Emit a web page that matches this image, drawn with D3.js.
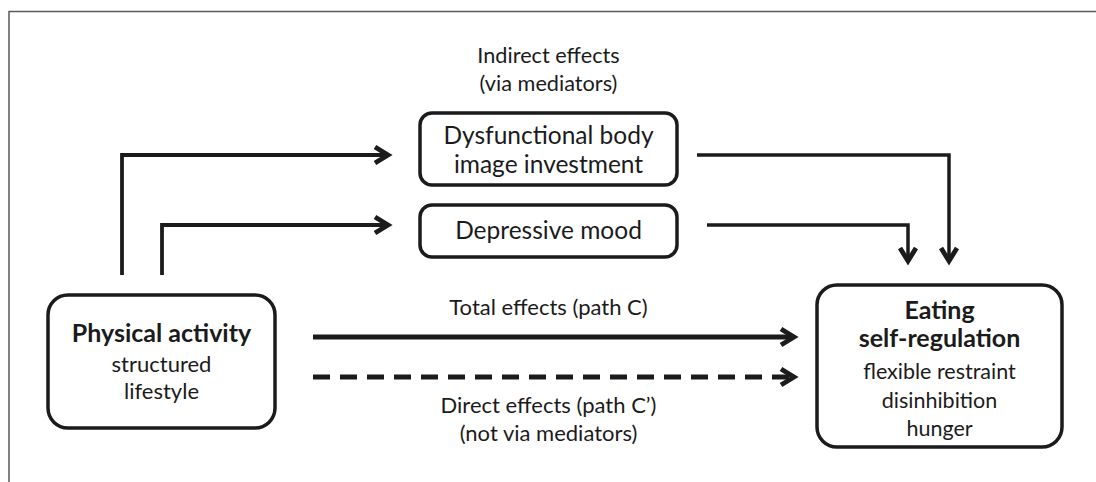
<!DOCTYPE html>
<html>
<head>
<meta charset="utf-8">
<script src="https://cdn.jsdelivr.net/npm/d3@7"></script>
<style>
  body { margin: 0; background: #fff; }
  text { font-family: Lato, "Open Sans", sans-serif; fill: #1b1b1b; }
</style>
</head>
<body>
<div id="diagram"></div>
<script>
// diagram text
var sourceTitle = ["Physical activity"];
var sourceDetails = ["structured", "lifestyle"];
var mediatorLines = [["Dysfunctional body", "image investment"], ["Depressive mood"]];
var outcomeTitle = ["Eating", "self-regulation"];
var outcomeDetails = ["flexible restraint", "disinhibition", "hunger"];
var indirectLabel = ["Indirect effects", "(via mediators)"];
var totalLabel = ["Total effects (path C)"];
var directLabel = ["Direct effects (path C\u2019)", "(not via mediators)"];

// SVG size
const svgWidth = 1096;
const svgHeight = 482;

var svg = d3.select("#diagram")
  .append("svg")
  .attr("width", svgWidth)
  .attr("height", svgHeight);

// frame (top and left edge only)
svg.append("path")
  .attr("d", "M9,482 V11.5 H1096")
  .attr("fill", "none")
  .attr("stroke", "#5a5a5a")
  .attr("stroke-width", 1.5);

// box layout
var boxes = {
  source: {x: 48, y: 295, w: 227, h: 133},
  body: {x: 420, y: 113, w: 257, h: 72},
  mood: {x: 420, y: 205, w: 257, h: 52},
  outcome: {x: 817, y: 285, w: 245, h: 162}
};

Object.keys(boxes).forEach(function(k) {
  var b = boxes[k];
  svg.append("rect")
    .attr("x", b.x)
    .attr("y", b.y)
    .attr("width", b.w)
    .attr("height", b.h)
    .attr("rx", k === "body" || k === "mood" ? 12 : 20)
    .attr("fill", "none")
    .attr("stroke", "#1b1b1b")
    .attr("stroke-width", 3.5);
});

// writes lines of text centred at cx, one baseline per line
function writeLines(lines, cx, baselines, size, weight) {
  svg.selectAll(null)
    .data(lines)
    .enter()
    .append("text")
    .attr("x", cx)
    .attr("y", (d, i) => baselines[i])
    .attr("text-anchor", "middle")
    .style("font-size", size + "px")
    .style("font-weight", weight)
    .text(d => d);
}

var cSource = boxes.source.x + boxes.source.w / 2;
var cMid = boxes.body.x + boxes.body.w / 2;
var cOut = boxes.outcome.x + boxes.outcome.w / 2;

writeLines(sourceTitle, cSource, [342], 25, 700);
writeLines(sourceDetails, cSource, [372, 399], 22, 400);
writeLines(mediatorLines[0], cMid, [144, 173], 24.5, 400);
writeLines(mediatorLines[1], cMid, [239], 24.5, 400);
writeLines(outcomeTitle, cOut, [319, 347], 25, 700);
writeLines(outcomeDetails, cOut, [379, 408, 436], 21.5, 400);
writeLines(indirectLabel, cMid, [63, 91], 21.7, 400);
writeLines(totalLabel, cMid, [315], 22, 400);
writeLines(directLabel, cMid, [413, 441], 22, 400);

// arrow: polyline ending in a chevron head at the last point
function arrow(points, width, dash) {
  var n = points.length;
  var tip = points[n - 1];
  var prev = points[n - 2];
  var dx = tip[0] - prev[0], dy = tip[1] - prev[1];
  var len = Math.sqrt(dx * dx + dy * dy);
  var ux = dx / len, uy = dy / len;
  var hw = 4.8;
  var back = 5; // miter overshoot
  var vx = tip[0] - ux * back, vy = tip[1] - uy * back;
  var shaft = points.slice(0, n - 1).concat([[vx - ux * 2, vy - uy * 2]]);

  svg.append("path")
    .attr("d", d3.line()(shaft))
    .attr("fill", "none")
    .attr("stroke", "#1b1b1b")
    .attr("stroke-width", width)
    .attr("stroke-dasharray", dash || null);

  var hl = 13, hh = 8;
  var head = [
    [vx - ux * hl - uy * hh, vy - uy * hl + ux * hh],
    [vx, vy],
    [vx - ux * hl + uy * hh, vy - uy * hl - ux * hh]
  ];
  svg.append("path")
    .attr("d", d3.line()(head))
    .attr("fill", "none")
    .attr("stroke", "#1b1b1b")
    .attr("stroke-width", hw)
    .attr("stroke-linejoin", "miter");
}

// indirect paths into mediators
arrow([[122, 275], [122, 155], [393, 155]], 3.8);
arrow([[162, 275], [162, 225], [393, 225]], 3.8);
// mediators into outcome
arrow([[697, 155], [949, 155], [949, 266]], 3.5);
arrow([[707, 225], [908, 225], [908, 266]], 3.5);
// total and direct effects
arrow([[313, 337], [799, 337]], 5);
arrow([[313, 377], [799, 377]], 5, "17,10");
</script>
</body>
</html>
